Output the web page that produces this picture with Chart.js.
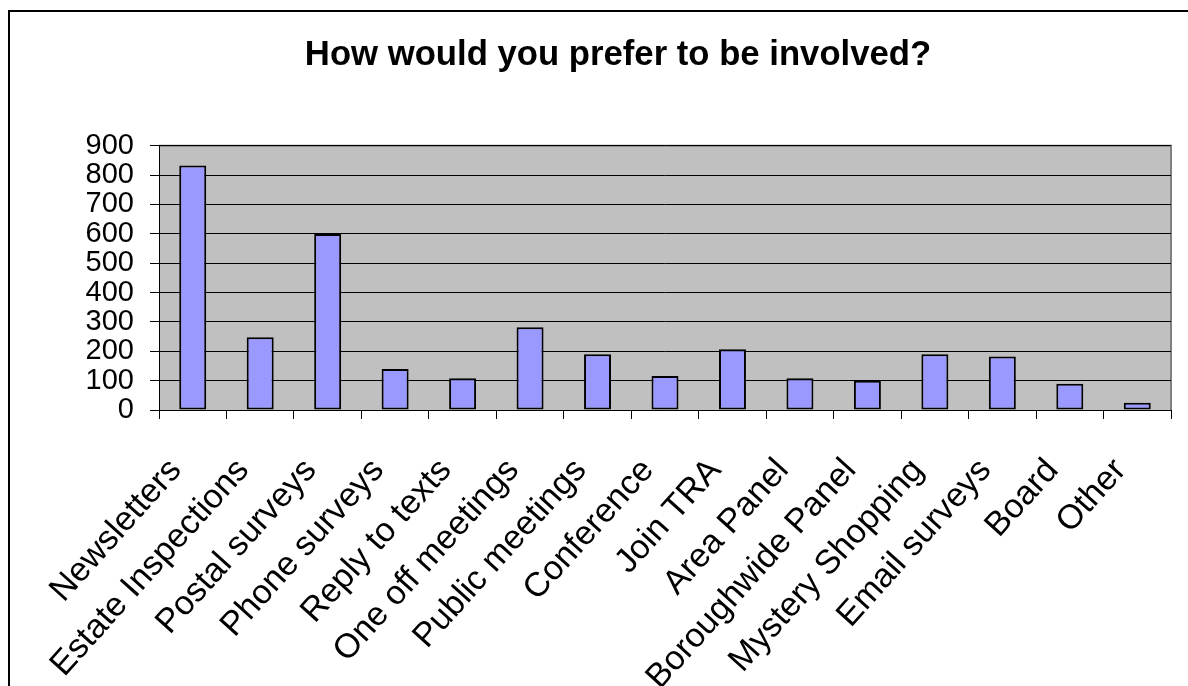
<!DOCTYPE html>
<html>
<head>
<meta charset="utf-8">
<script src="https://cdn.jsdelivr.net/npm/chart.js@4.4.1/dist/chart.umd.min.js"></script>
<style>
  html, body { margin: 0; padding: 0; background: #fff; }
  body { width: 1188px; height: 686px; position: relative; overflow: hidden; }
  #frame {
    position: absolute; left: 8px; top: 10px; width: 1300px; height: 800px;
    border-left: 2px solid #000; border-top: 2px solid #000;
  }
  #wrap { position: absolute; left: 0; top: 0; width: 1188px; height: 686px; }
</style>
</head>
<body>
<div id="frame"></div>
<div id="wrap"><canvas id="involvedChart"></canvas></div>
<script>
const categories = [
  'Newsletters', 'Estate Inspections', 'Postal surveys', 'Phone surveys',
  'Reply to texts', 'One off meetings', 'Public meetings', 'Conference',
  'Join TRA', 'Area Panel', 'Boroughwide Panel', 'Mystery Shopping',
  'Email surveys', 'Board', 'Other'
];
const responses = [832, 248, 599, 140, 108, 282, 190, 116, 207, 108, 100, 190, 182, 89, 25];
const yTicks = [0, 100, 200, 300, 400, 500, 600, 700, 800, 900];

const FONT = '"Liberation Sans", Arial, sans-serif';

// grey plot background with a thin darker edge, like the old office charts
const plotBackground = {
    id: 'plotBackground',
    beforeDraw(chart) {
        const { ctx, chartArea: a } = chart;
        ctx.save();
        ctx.fillStyle = '#C0C0C0';
        ctx.fillRect(a.left, a.top, a.right - a.left, a.bottom - a.top);
        ctx.strokeStyle = '#808080';
        ctx.lineWidth = 2;
        ctx.beginPath();
        ctx.moveTo(a.left, a.top);
        ctx.lineTo(a.right, a.top);
        ctx.lineTo(a.right, a.bottom);
        ctx.stroke();
        ctx.restore();
    }
};

const ctx = document.getElementById('involvedChart').getContext('2d');
new Chart(ctx, {
    type: 'bar',
    data: {
        labels: categories,
        datasets: [{
            data: responses,
            backgroundColor: '#9999FF',
            borderColor: '#000000',
            borderWidth: 2,
            borderSkipped: false,
            barPercentage: 0.4,
            categoryPercentage: 1,
        }],
    },
    options: {
        responsive: true,
        maintainAspectRatio: false,
        animation: false,
        // left padding pushes the title centre right; y axis width makes up the rest
        layout: { padding: { left: 65, right: 17, top: 0, bottom: 0 } },
        plugins: {
            legend: { display: false },
            tooltip: { enabled: false },
            title: {
                display: true,
                text: 'How would you prefer to be involved?',
                color: '#000',
                font: { family: FONT, size: 34.7, weight: 'bold' },
                padding: { top: 35, bottom: 69 },
            },
        },
        scales: {
            x: {
                grid: { offset: true, drawOnChartArea: false, drawTicks: true, tickLength: 9, color: '#000' },
                border: { color: '#000', width: 1 },
                ticks: {
                    color: '#000',
                    autoSkip: false,
                    minRotation: 48,
                    maxRotation: 48,
                    padding: 32,
                    labelOffset: -17,
                    font: { family: FONT, size: 34 },
                },
                afterFit(scale) {
                    scale.height = 276;
                    // rotated labels may hang outside the plot; keep the plot full width
                    scale.paddingLeft = 0;
                    scale.paddingRight = 0;
                },
            },
            y: {
                min: 0,
                max: 900,
                afterBuildTicks(scale) { scale.ticks = yTicks.map(v => ({ value: v })); },
                grid: { color: '#000', lineWidth: 1, tickLength: 9 },
                border: { color: '#000', width: 1 },
                ticks: {
                    color: '#000',
                    autoSkip: false,
                    padding: 16,
                    font: { family: FONT, size: 29 },
                },
                afterFit(scale) { scale.width = 94; },
            },
        },
    },
    plugins: [plotBackground],
});
</script>
</body>
</html>
